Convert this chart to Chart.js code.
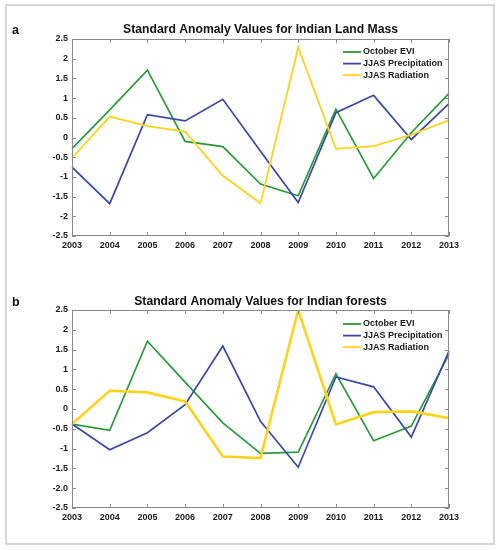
<!DOCTYPE html>
<html>
<head>
<meta charset="utf-8">
<script src="https://cdn.jsdelivr.net/npm/chart.js@4.4.0/dist/chart.umd.min.js"></script>
<style>
    body { margin: 0; background: #fff; }
    #frame { position: absolute; left: 5px; top: 4px; width: 486px; height: 537px; border: 2px solid #d6d6d6; }
    canvas { position: absolute; left: 0; }
</style>
</head>
<body>
<div id="frame"></div>
<canvas id="chartA" width="499" height="275" style="top:0"></canvas>
<canvas id="chartB" width="499" height="275" style="top:275px"></canvas>
<script>
// Chart data
const years = ['2003', '2004', '2005', '2006', '2007', '2008', '2009', '2010', '2011', '2012', '2013'];
const seriesNames = ['October EVI', 'JJAS Precipitation', 'JJAS Radiation'];

// Panel a - Indian land mass
const landEvi = [-0.28, 0.7, 1.71, -0.1, -0.23, -1.18, -1.48, 0.72, -1.04, 0.12, 1.12];
const landPrecip = [-0.75, -1.68, 0.58, 0.42, 0.97, -0.35, -1.65, 0.63, 1.07, -0.05, 0.86];
const landRad = [-0.52, 0.53, 0.29, 0.15, -0.97, -1.67, 2.29, -0.29, -0.22, 0.07, 0.44];

// Panel b - Indian forests
const forestEvi = [-0.38, -0.54, 1.71, 0.68, -0.35, -1.12, -1.09, 0.89, -0.8, -0.43, 1.38];
const forestPrecip = [-0.38, -1.03, -0.6, 0.11, 1.59, -0.31, -1.47, 0.81, 0.56, -0.71, 1.46];
const forestRad = [-0.38, 0.46, 0.42, 0.19, -1.2, -1.24, 2.5, -0.39, -0.08, -0.06, -0.23];

// Y tick labels (bottom to top)
const yLabelsA = ['-2.5', '-2', '-1.5', '-1', '-0.5', '0', '0.5', '1', '1.5', '2', '2.5'];
const yLabelsB = ['-2.5', '-2.0', '-1.5', '-1', '-0.5', '0', '0.5', '1', '1.5', '2', '2.5'];

const colors = ['#2b9a3c', '#3b49a6', '#ffd21c'];
const tickFont = { family: 'Liberation Sans, Arial, sans-serif', size: 9, weight: 'bold' };

// Box, inward ticks, title, panel letter and legend (MATLAB style)
const panelDecor = {
    id: 'panelDecor',
    afterDraw(chart, args, opts) {
        const { ctx, chartArea: a, scales: { x, y } } = chart;
        ctx.save();
        ctx.strokeStyle = '#8a8a8a';
        ctx.lineWidth = 1;
        ctx.strokeRect(a.left + 0.5, a.top + 0.5, a.right - a.left - 1, a.bottom - a.top - 1);
        ctx.beginPath();
        x.ticks.forEach((t, i) => {
            const px = Math.round(x.getPixelForTick(i)) + 0.5;
            ctx.moveTo(px, a.bottom); ctx.lineTo(px, a.bottom - 4);
            ctx.moveTo(px, a.top); ctx.lineTo(px, a.top + 4);
        });
        y.ticks.forEach((t, i) => {
            const py = Math.round(y.getPixelForTick(i)) + 0.5;
            ctx.moveTo(a.left, py); ctx.lineTo(a.left + 4, py);
            ctx.moveTo(a.right, py); ctx.lineTo(a.right - 4, py);
        });
        ctx.stroke();

        // title and panel letter
        ctx.fillStyle = '#111';
        ctx.textBaseline = 'middle';
        ctx.textAlign = 'center';
        ctx.font = 'bold 12.2px Liberation Sans, Arial, sans-serif';
        ctx.fillText(opts.title, (a.left + a.right) / 2, opts.titleY);
        ctx.textAlign = 'left';
        ctx.font = 'bold 12.5px Liberation Sans, Arial, sans-serif';
        ctx.fillText(opts.letter, 12, opts.titleY + 1);

        // legend
        ctx.font = 'bold 9px Liberation Sans, Arial, sans-serif';
        chart.data.datasets.forEach((ds, i) => {
            const ly = a.top + opts.legendTop + i * 11.6;
            ctx.strokeStyle = ds.borderColor;
            ctx.lineWidth = 1.8;
            ctx.beginPath();
            ctx.moveTo(343, ly); ctx.lineTo(361, ly);
            ctx.stroke();
            ctx.fillStyle = '#1a1a1a';
            ctx.fillText(ds.label, 363, ly);
        });
        ctx.restore();
    }
};

function makeChart(id, evi, precip, rad, yLabels, title, letter, pad, titleY, legendTop, radWidth) {
    const ctx = document.getElementById(id).getContext('2d');
    return new Chart(ctx, {
        type: 'line',
        data: {
            labels: years,
            datasets: [
                { label: seriesNames[0], data: evi, borderColor: colors[0], borderWidth: 1.7, order: 3 },
                { label: seriesNames[1], data: precip, borderColor: colors[1], borderWidth: 1.7, order: 2 },
                { label: seriesNames[2], data: rad, borderColor: colors[2], borderWidth: radWidth, order: 1 }
            ]
        },
        options: {
            responsive: false,
            animation: false,
            layout: { padding: pad },
            elements: { point: { radius: 0 }, line: { tension: 0, fill: false } },
            plugins: {
                legend: { display: false },
                tooltip: { enabled: false },
                panelDecor: { title: title, letter: letter, titleY: titleY, legendTop: legendTop }
            },
            scales: {
                x: {
                    offset: false,
                    grid: { display: false, drawTicks: false },
                    border: { display: false },
                    ticks: { font: tickFont, color: '#1a1a1a', padding: 4, autoSkip: false, maxRotation: 0 },
                    afterFit: s => { s.height = 20; }
                },
                y: {
                    min: -2.5,
                    max: 2.5,
                    grid: { display: false, drawTicks: false },
                    border: { display: false },
                    ticks: {
                        stepSize: 0.5,
                        font: tickFont,
                        color: '#1a1a1a',
                        padding: 4,
                        callback: (v, i) => yLabels[i]
                    },
                    afterFit: s => { s.width = 30; }
                }
            }
        },
        plugins: [panelDecor]
    });
}

makeChart('chartA', landEvi, landPrecip, landRad, yLabelsA,
    'Standard Anomaly Values for Indian Land Mass', 'a',
    { left: 42, right: 50, top: 39, bottom: 19 }, 30, 13, 1.8);

makeChart('chartB', forestEvi, forestPrecip, forestRad, yLabelsB,
    'Standard Anomaly Values for Indian forests', 'b',
    { left: 42, right: 50, top: 35, bottom: 22 }, 27, 14, 2.6);
</script>
</body>
</html>
